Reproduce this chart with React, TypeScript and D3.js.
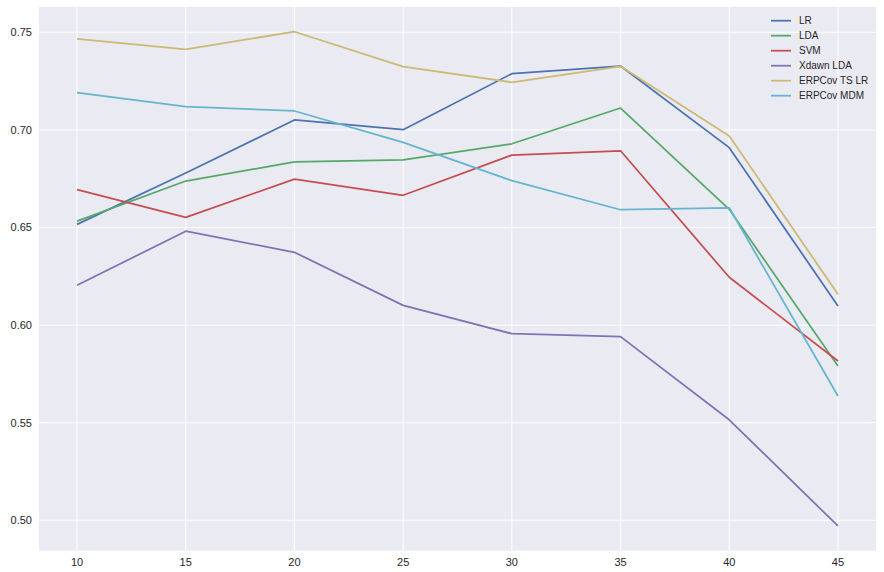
import React from "react";
import * as d3 from "d3";

const xValues = [10, 15, 20, 25, 30, 35, 40, 45];
const seriesNames = ["LR", "LDA", "SVM", "Xdawn LDA", "ERPCov TS LR", "ERPCov MDM"];
const lrValues = [0.6516, 0.6779, 0.7051, 0.7001, 0.7288, 0.7327, 0.6909, 0.6098];
const ldaValues = [0.6533, 0.6738, 0.6836, 0.6846, 0.6929, 0.7112, 0.6593, 0.579];
const svmValues = [0.6694, 0.6552, 0.6748, 0.6665, 0.6871, 0.6893, 0.6245, 0.5816];
const xdawnValues = [0.6204, 0.6481, 0.6373, 0.6101, 0.5956, 0.5941, 0.5515, 0.4971];
const tsLrValues = [0.7466, 0.7413, 0.7503, 0.7324, 0.7244, 0.7326, 0.6969, 0.6158];
const mdmValues = [0.7191, 0.7119, 0.7097, 0.6936, 0.674, 0.6591, 0.6601, 0.5637];
const xTicks = [10, 15, 20, 25, 30, 35, 40, 45];
const yTicks = [0.5, 0.55, 0.6, 0.65, 0.7, 0.75];
const colors = ["#4C72B0", "#55A868", "#C44E52", "#8172B2", "#CCB974", "#64B5CD"];

export default function App() {
  const W = 884, H = 572;
  const left = 39, right = 876, top = 7, bottom = 550.7;
  const allSeries = [lrValues, ldaValues, svmValues, xdawnValues, tsLrValues, mdmValues];
  const allVals = allSeries.flat();
  const yMin = d3.min(allVals)!, yMax = d3.max(allVals)!;
  const yPad = (yMax - yMin) * 0.05;
  const xPad = (xValues[xValues.length - 1] - xValues[0]) * 0.05;
  const x = d3.scaleLinear().domain([xValues[0] - xPad, xValues[xValues.length - 1] + xPad]).range([left, right]);
  const y = d3.scaleLinear().domain([yMin - yPad, yMax + yPad]).range([bottom, top]);
  const line = d3.line<number>().x((_, i) => x(xValues[i])).y((d) => y(d));
  const font = "'Liberation Sans', Arial, sans-serif";
  return (
    <div style={{ position: "absolute", left: 0, top: 0 }}>
      <svg width={W} height={H} style={{ display: "block" }}>
        <rect x={0} y={0} width={W} height={H} fill="#fff" />
        <rect x={left} y={top} width={right - left} height={bottom - top} fill="#EAEAF2" />
        {xTicks.map((t) => (
          <line key={"gx" + t} x1={x(t)} x2={x(t)} y1={top} y2={bottom} stroke="#fff" strokeWidth={1} />
        ))}
        {yTicks.map((t) => (
          <line key={"gy" + t} x1={left} x2={right} y1={y(t)} y2={y(t)} stroke="#fff" strokeWidth={1} />
        ))}
        {allSeries.map((s, i) => (
          <path key={"s" + i} d={line(s)!} fill="none" stroke={colors[i]} strokeWidth={1.75} strokeLinejoin="round" strokeLinecap="butt" />
        ))}
        {xTicks.map((t) => (
          <text key={"tx" + t} x={x(t)} y={566} textAnchor="middle" fontFamily={font} fontSize={11} fill="#262626">
            {t}
          </text>
        ))}
        {yTicks.map((t) => (
          <text key={"ty" + t} x={32} y={y(t)} dy="0.35em" textAnchor="end" fontFamily={font} fontSize={11} fill="#262626">
            {t.toFixed(2)}
          </text>
        ))}
        {seriesNames.map((n, i) => (
          <g key={"l" + n}>
            <line x1={771} x2={791} y1={20.7 + i * 15} y2={20.7 + i * 15} stroke={colors[i]} strokeWidth={1.75} />
            <text x={799} y={20.7 + i * 15} dy="0.35em" fontFamily={font} fontSize={10} fill="#262626">
              {n}
            </text>
          </g>
        ))}
      </svg>
    </div>
  );
}
